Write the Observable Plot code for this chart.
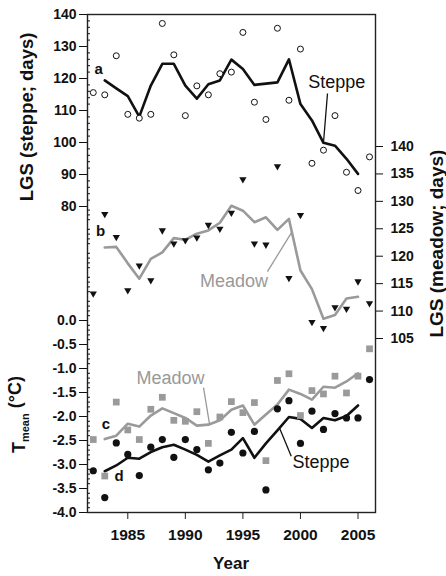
<!DOCTYPE html>
<html><head><meta charset="utf-8">
<script src="https://cdn.jsdelivr.net/npm/d3@7"></script>
<script src="https://cdn.jsdelivr.net/npm/@observablehq/plot@0.6"></script>
<style>body{margin:0;background:#fff}</style>
</head><body><div id="chart"></div>
<script>
// ---- data ----
const years = [1982,1983,1984,1985,1986,1987,1988,1989,1990,1991,1992,1993,1994,1995,1996,1997,1998,1999,2000,2001,2002,2003,2004,2005,2006];
const lineYears = [1983,1984,1985,1986,1987,1988,1989,1990,1991,1992,1993,1994,1995,1996,1997,1998,1999,2000,2001,2002,2003,2004,2005];

const steppeLGS = [115.6,114.9,127.1,108.8,107.6,108.8,137.2,127.4,108.4,117.7,114.9,121.5,122.0,134.4,112.6,107.2,135.7,113.2,129.2,93.5,97.6,108.4,90.7,85.0,95.5];
const steppeLGSLine = [119.4,116.9,114.5,108.1,117.8,124.6,124.6,117.8,113.7,118.2,119.4,125.9,123.0,118.0,118.4,118.8,126.0,112.0,106.9,99.9,99.0,94.9,90.2];

const meadowLGS = [113.2,127.7,123.5,113.8,118.3,115.6,124.7,122.3,122.9,123.4,125.7,125.0,127.9,134.0,122.3,122.1,136.4,116.0,127.5,108.0,106.9,110.7,110.4,115.4,111.4];
const meadowLGSLine = [121.6,121.7,118.7,115.9,119.5,120.7,123.3,123.0,124.1,124.7,126.1,129.2,128.3,126.2,127.1,124.8,126.8,117.4,114.0,108.6,109.3,112.3,112.6];

const meadowT = [-2.48,-3.24,-1.70,-2.28,-2.48,-1.85,-1.60,-2.08,-2.10,-1.90,-2.56,-2.01,-1.69,-1.92,-1.71,-2.92,-1.25,-1.11,-1.98,-1.46,-1.53,-1.16,-1.51,-1.16,-0.59];
const meadowTLine = [-2.47,-2.40,-2.15,-2.21,-1.98,-1.83,-1.93,-2.03,-2.19,-2.17,-2.08,-1.86,-1.77,-2.17,-1.96,-1.75,-1.44,-1.53,-1.65,-1.38,-1.40,-1.27,-1.10];

const steppeT = [-3.13,-3.69,-2.55,-2.79,-3.23,-2.64,-2.48,-2.85,-2.48,-2.69,-3.11,-2.97,-2.33,-2.76,-2.31,-3.53,-1.84,-1.67,-2.56,-1.89,-2.27,-1.94,-2.03,-2.03,-1.23];
const steppeTLine = [-3.14,-3.02,-2.86,-2.88,-2.74,-2.64,-2.59,-2.69,-2.80,-2.94,-2.81,-2.69,-2.45,-2.86,-2.56,-2.29,-2.01,-2.05,-2.24,-2.03,-2.08,-1.99,-1.77];

// ticks
const yearTicks = [1985,1990,1995,2000,2005];
const steppeTicks = [80,90,100,110,120,130,140];
const meadowTicks = [105,110,115,120,125,130,135,140];
const tempTicks = [-4.0,-3.5,-3.0,-2.5,-2.0,-1.5,-1.0,-0.5,0.0];

// annotation labels (panel, text, year, value)
const seriesLabels = [
  {panel:"steppe", text:"Steppe", x:2003.16, v:118.7, color:"#111"},
  {panel:"meadow", text:"Meadow", x:1994.23, v:115.5, color:"#999"},
  {panel:"temp",   text:"Meadow", x:1988.71, v:-1.21, color:"#999"},
  {panel:"temp",   text:"Steppe", x:2001.79, v:-2.96, color:"#111"}
];
const panelLetters = [
  {panel:"steppe", text:"a", x:1982.46, v:122.8},
  {panel:"meadow", text:"b", x:1982.63, v:124.5},
  {panel:"temp",   text:"c", x:1983.11, v:-2.15},
  {panel:"temp",   text:"d", x:1984.24, v:-3.25}
];
const leaders = [
  {panel:"steppe", x1:2002.35, v1:115.3, x2:2002.0, v2:99.9, color:"#111"},
  {panel:"meadow", x1:1997.13, v1:117.2, x2:1999.25, v2:124.4, color:"#999"},
  {panel:"temp",   x1:1991.58, v1:-1.40, x2:1992.1, v2:-2.16, color:"#999"},
  {panel:"temp",   x1:1998.2,  v1:-2.25, x2:1999.2, v2:-2.83, color:"#111"}
];

// ---- shared vertical scale: temperature units; LGS panels mapped onto it ----
const steppeToY = v => 6.375 - (140 - v) / 15;
const meadowToY = m => 3.625 - (140 - m) * 4 / 35;
const fromSteppe = t => Math.round(140 - (6.375 - t) * 15);
const fromMeadow = t => Math.round(140 - (3.625 - t) * 35 / 4);
const toY = {steppe: steppeToY, meadow: meadowToY, temp: v => v};

const pts = (xs, vs, f) => xs.map((x, i) => ({x, y: f(vs[i])}));

const BLACK = "#111", GRAY = "#9a9a9a";
const FONT = "Liberation Sans, Arial, Helvetica, sans-serif";

const minorSteppe = d3.range(80, 140.01, 2).filter(v => v % 10 !== 0).map(steppeToY);
const minorTemp = d3.range(-40, 24, 1).map(v => v / 10).filter(v => Math.abs(v * 2 - Math.round(v * 2)) > 1e-6 && v < steppeToY(80) - 0.05);

const chart = Plot.plot({
  width: 446, height: 576,
  marginTop: 14, marginBottom: 64, marginLeft: 87, marginRight: 71,
  style: {fontFamily: FONT, background: "#fff", color: BLACK},
  x: {domain: [1981.5, 2006.52]},
  y: {domain: [-4, 6.375]},
  marks: [
    Plot.frame({stroke: "#222", strokeWidth: 1.4}),
    // axes
    Plot.axisX(yearTicks, {anchor: "bottom", tickSize: 7, tickPadding: 9, tickFormat: d => String(d), fontSize: 15.5, fontWeight: "bold", label: null, stroke: "#222"}),
    Plot.axisY(steppeTicks.map(steppeToY), {anchor: "left", tickSize: 8, tickPadding: 3, tickFormat: fromSteppe, fontSize: 14, fontWeight: "bold", label: null}),
    Plot.axisY(tempTicks, {anchor: "left", tickSize: 8, tickPadding: 3, tickFormat: d => d.toFixed(1), fontSize: 14, fontWeight: "bold", label: null}),
    Plot.axisY(minorSteppe, {anchor: "left", tickSize: -3, tickFormat: () => "", label: null}),
    Plot.axisY(minorTemp, {anchor: "left", tickSize: -3, tickFormat: () => "", label: null}),
    Plot.axisY(meadowTicks.map(meadowToY), {anchor: "right", tickSize: 7, tickPadding: 8, tickFormat: fromMeadow, fontSize: 14, fontWeight: "bold", label: null}),
    // axis titles
    Plot.text(["LGS (steppe; days)"], {frameAnchor: "left", textAnchor: "middle", y: () => steppeToY(108), dx: -60, rotate: -90, fontSize: 18.5, fontWeight: "bold", fill: BLACK}),
    Plot.text(["LGS (meadow; days)"], {frameAnchor: "right", textAnchor: "middle", y: () => meadowToY(122.3), dx: 61, rotate: -90, fontSize: 19, fontWeight: "bold", fill: BLACK}),
    Plot.text(["Tmean (°C)"], {frameAnchor: "left", textAnchor: "middle", y: () => -1.96, dx: -68, rotate: -90, fontSize: 18, fontWeight: "bold", fill: BLACK}),
    Plot.text(["Year"], {frameAnchor: "bottom", x: () => 1993.97, dy: 56, fontSize: 17, fontWeight: "bold", fill: BLACK}),
    // steppe LGS
    Plot.line(pts(lineYears, steppeLGSLine, steppeToY), {x: "x", y: "y", stroke: BLACK, strokeWidth: 2.6}),
    Plot.dot(pts(years, steppeLGS, steppeToY), {x: "x", y: "y", r: 3, stroke: BLACK, strokeWidth: 1, fill: "#fff"}),
    // meadow LGS
    Plot.line(pts(lineYears, meadowLGSLine, meadowToY), {x: "x", y: "y", stroke: GRAY, strokeWidth: 2.6}),
    Plot.dot(pts(years, meadowLGS, meadowToY), {x: "x", y: "y", symbol: "triangle", rotate: 180, r: 2.7, fill: BLACK, stroke: "none"}),
    // temperatures
    Plot.line(pts(lineYears, meadowTLine, v => v), {x: "x", y: "y", stroke: GRAY, strokeWidth: 2.6}),
    Plot.line(pts(lineYears, steppeTLine, v => v), {x: "x", y: "y", stroke: BLACK, strokeWidth: 2.6}),
    Plot.dot(pts(years, meadowT, v => v), {x: "x", y: "y", symbol: "square", r: 3.8, fill: GRAY, stroke: "none"}),
    Plot.dot(pts(years, steppeT, v => v), {x: "x", y: "y", r: 3.6, fill: BLACK, stroke: "none"}),
    // annotations
    Plot.link(leaders, {x1: "x1", x2: "x2", y1: d => toY[d.panel](d.v1), y2: d => toY[d.panel](d.v2), stroke: d => d.color, strokeWidth: 1.3}),
    Plot.text(seriesLabels, {x: "x", y: d => toY[d.panel](d.v), text: "text", fill: d => d.color, fontSize: 18, fontWeight: "normal"}),
    Plot.text(panelLetters, {x: "x", y: d => toY[d.panel](d.v), text: "text", fill: BLACK, fontSize: 15, fontWeight: "bold"})
  ]
});

// subscript for T_mean
d3.select(chart).selectAll("text").filter(function() { return this.textContent === "Tmean (°C)"; })
  .each(function() {
    const t = d3.select(this);
    t.text(null);
    t.append("tspan").text("T");
    t.append("tspan").attr("font-size", 11).attr("dy", "0.35em").text("mean");
    t.append("tspan").attr("dy", "-0.45em").text(" (°C)");
  });

document.getElementById("chart").appendChild(chart);
</script>
</body></html>
